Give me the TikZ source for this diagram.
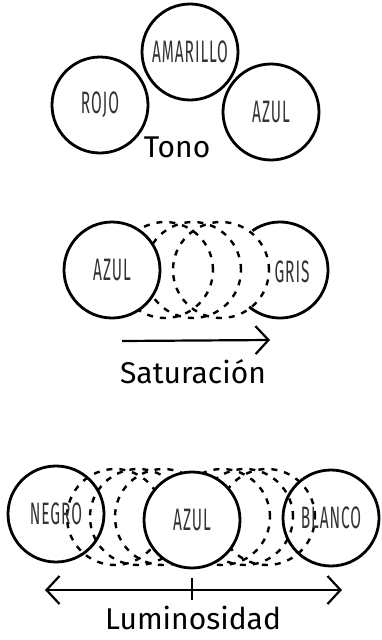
\documentclass[tikz,border=0pt]{standalone}
\usepackage{fontspec}
\setmainfont{Fira Sans}
\newfontfamily\capsfont[LetterSpace=6]{Fira Sans}
\usetikzlibrary{arrows.meta}
\definecolor{ink}{HTML}{333333}
\tikzset{
  colorcirc/.style={circle, draw, line width=2.8pt, minimum size=96pt, inner sep=0pt, outer sep=0pt},
  ghost/.style={line width=2.4pt, dash pattern=on 6pt off 7pt},
  axis/.style={line width=2.2pt},
  title/.style={font=\fontsize{30}{30}\selectfont, inner sep=0pt},
}
\newcommand{\lbl}[1]{\textcolor{ink}{\scalebox{0.5}[1]{\capsfont\fontsize{31}{31}\selectfont #1}}}
\begin{document}
\begin{tikzpicture}[x=1pt,y=-1pt, >={Straight Barb[length=13pt,width=28pt]}]
\useasboundingbox (0,0) rectangle (382,640);
% Tono
\node[colorcirc] (rojo) at (100,105) {\lbl{ROJO}};
\node[colorcirc] (amarillo) at (190,52) {\lbl{AMARILLO}};
\node[colorcirc] (azula) at (271,112) {\lbl{AZUL}};
\node[title] (tono) at (177,147) {Tono};

% Saturacion
\foreach \cx in {165,193,221}
  \draw[ghost] (\cx,270) circle[radius=48pt];
\node[colorcirc, fill=white] (azulb) at (112,270) {\lbl{AZUL}};
\node[colorcirc, draw=none] (gris) at (280,270) {};
\draw[line width=2.8pt] (gris.125) arc[start angle=125, end angle=-130, radius=48pt];
\node (gristxt) at (292,272) {\lbl{GRIS}};
\coordinate (satA) at (122,341);
\coordinate (satB) at (270,340);
\draw[axis,->] (satA) -- (satB);
\node[title] (saturacion) at (193,372) {Saturación};

% Luminosidad
\foreach \cx in {115,138,163,222,245,267}
  \draw[ghost] (\cx,517) circle[radius=48pt];
\node[colorcirc] (negro) at (56,514) {\lbl{NEGRO}};
\node[colorcirc, fill=white] (azulc) at (192,520) {\lbl{AZUL}};
\node[colorcirc] (blanco) at (331,518) {\lbl{BLANCO}};
\coordinate (lumA) at (45,590);
\coordinate (lumM) at (192,590);
\coordinate (lumB) at (342,590);
\draw[axis,<->] (lumA) -- (lumB);
\draw[axis] ([yshift=12pt]lumM) -- ([yshift=-10pt]lumM);
\node[title] (luminosidad) at (193,618) {Luminosidad};
\end{tikzpicture}
\end{document}
